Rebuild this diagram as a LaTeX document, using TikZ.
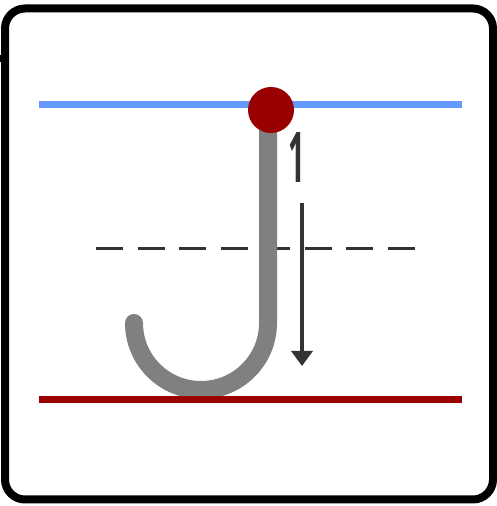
\documentclass[tikz,border=0pt]{standalone}
\usepackage{fontspec}
\setmainfont{Open Sans}
\usetikzlibrary{arrows.meta}
\definecolor{topblue}{HTML}{6699FF}
\definecolor{topbluedark}{HTML}{4A77D0}
\definecolor{baseRed}{HTML}{990000}
\definecolor{strokeGray}{HTML}{808080}
\definecolor{inkDark}{HTML}{333333}
\tikzset{
  guideline/.style={line width=7pt},
  midline/.style={line width=3pt, inkDark, dash pattern=on 27pt off 14.7pt},
  letterstroke/.style={line width=18pt, strokeGray, line cap=round},
  strokearrow/.style={line width=3.5pt, inkDark, -{Triangle[length=15pt,width=21pt]}},
}
\begin{document}
\begin{tikzpicture}[x=1pt,y=1pt]
\useasboundingbox (0,0) rectangle (497,506);
% frame
\draw[line width=8pt, rounded corners=20pt, fill=white] (5,6.5) rectangle (493,497.5);
\fill (0,444) rectangle (3,451);
% top guide line with faint darker dashes
\foreach \a/\b in {81/116,176/210,293/342,372/417}
  \draw[line width=7pt, topbluedark] (\a,401.8) -- (\b,401.8);
\draw[guideline, topblue] (39,401) -- (462,401);
% midline
\draw[midline] (96,257) -- (415.5,257);
% letter J
\draw[letterstroke] (268,396) -- (268,183) arc[start angle=0, end angle=-180, radius=67];
% baseline
\draw[guideline, baseRed] (39,106) -- (462,106);
% start dot
\fill[baseRed] (271,396) circle[radius=23];
% stroke number and arrow
\node[inkDark, font=\fontsize{70}{70}\bfseries\selectfont, inner sep=0pt, anchor=base] (num) at (296.5,323) {\scalebox{0.42}[1]{1}};
\coordinate (arrowtop) at (302,303);
\coordinate (arrowtip) at (302,140);
\draw[strokearrow] (arrowtop) -- (arrowtip);
\end{tikzpicture}
\end{document}
